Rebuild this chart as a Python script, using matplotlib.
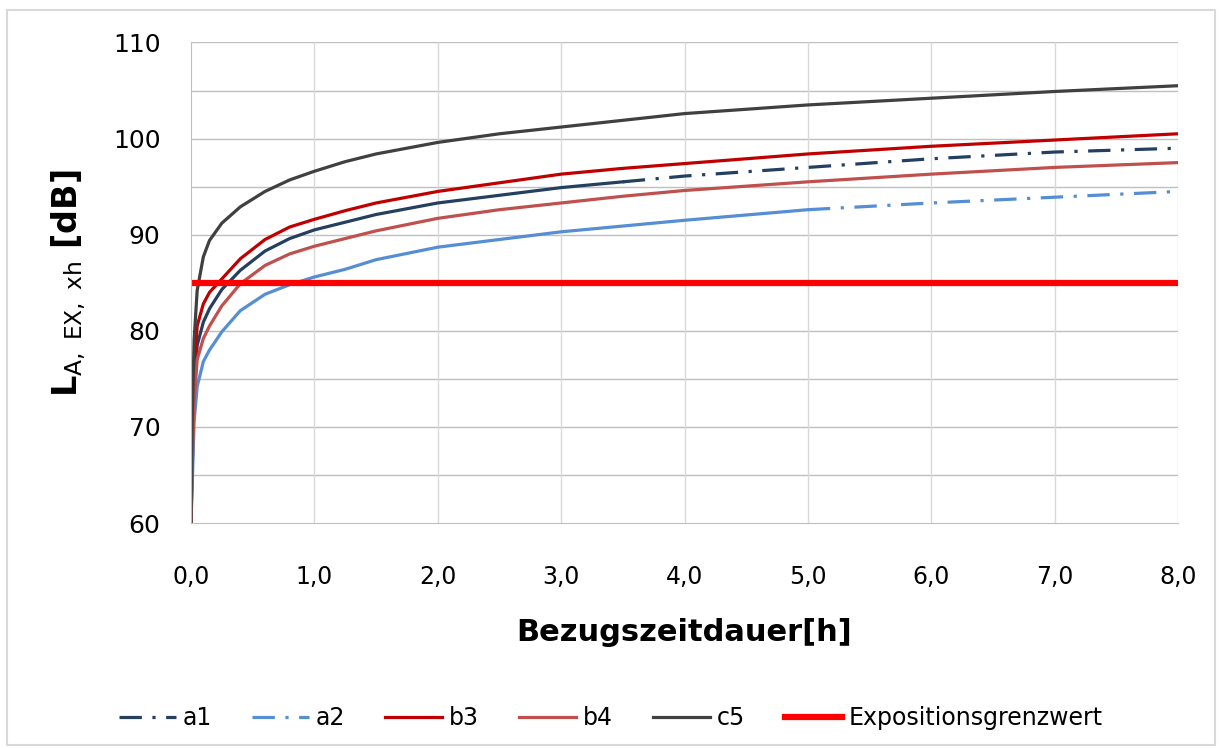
import matplotlib
matplotlib.use("Agg")
import matplotlib.pyplot as plt
import numpy as np

# Bezugszeitdauer in h (shared sample points)
hours = [0, 0.01, 0.025, 0.05, 0.1, 0.15, 0.25, 0.4, 0.6, 0.8, 1.0, 1.25,
         1.5, 2.0, 2.5, 3.0, 3.5, 4.0, 5.0, 6.0, 7.0, 8.0]

a1 = [60, 66, 73, 78.5, 80.9, 82.3, 84.3, 86.3, 88.3, 89.6, 90.5, 91.3,
      92.1, 93.3, 94.1, 94.9, 95.5, 96.1, 97.0, 97.9, 98.6, 99.0]
a2 = [60, 64, 70.5, 74.2, 76.8, 78.0, 79.9, 82.1, 83.8, 84.8, 85.6, 86.4,
      87.4, 88.7, 89.5, 90.3, 90.9, 91.5, 92.6, 93.3, 93.9, 94.5]
b3 = [60, 68, 76, 80.5, 82.8, 84.0, 85.4, 87.5, 89.5, 90.8, 91.6, 92.5,
      93.3, 94.5, 95.4, 96.3, 96.9, 97.4, 98.4, 99.2, 99.85, 100.5]
b4 = [60, 66, 72.5, 77, 79.2, 80.5, 82.6, 84.9, 86.8, 88.0, 88.8, 89.6,
      90.4, 91.7, 92.6, 93.3, 94.0, 94.6, 95.5, 96.3, 97.0, 97.5]
c5 = [60, 71, 79, 84.2, 87.7, 89.4, 91.2, 92.9, 94.5, 95.7, 96.6, 97.6,
      98.4, 99.6, 100.5, 101.2, 101.9, 102.6, 103.5, 104.2, 104.9, 105.5]
grenzwert = 85

x = np.array(hours)
dashdot = (7, 3.3, 1, 3.3)

fig = plt.figure(figsize=(12.22, 7.49), dpi=100)
ax = fig.add_axes([0.1563, 0.3017, 0.8077, 0.6416])

# dense part of the dash-dot series renders solid, sparse part dash-dot
solid_a1 = x <= 3.5
ax.plot(x[solid_a1], np.array(a1)[solid_a1], color="#243F60", lw=2.3)
h_a1, = ax.plot(x[x >= 3.5], np.array(a1)[x >= 3.5], color="#243F60", lw=2.3,
                dashes=dashdot, label="a1")
solid_a2 = x <= 5.0
ax.plot(x[solid_a2], np.array(a2)[solid_a2], color="#558ED5", lw=2.3)
h_a2, = ax.plot(x[x >= 5.0], np.array(a2)[x >= 5.0], color="#558ED5", lw=2.3,
                dashes=dashdot, label="a2")
h_b3, = ax.plot(x, b3, color="#C00000", lw=2.3, label="b3")
h_b4, = ax.plot(x, b4, color="#C0504D", lw=2.3, label="b4")
h_c5, = ax.plot(x, c5, color="#404040", lw=2.3, label="c5")
h_g, = ax.plot([0, 8], [grenzwert, grenzwert], color="#FF0000", lw=4.5,
               label="Expositionsgrenzwert")

ax.set_xlim(0, 8)
ax.set_ylim(60, 110)
ax.set_xticks(np.arange(0, 9, 1))
ax.set_xticklabels([f"{v:.1f}".replace(".", ",") for v in range(9)])
ax.set_yticks(np.arange(60, 111, 10))
ax.tick_params(axis="both", which="both", length=0)
ax.tick_params(axis="x", pad=30, labelsize=17)
ax.tick_params(axis="y", pad=22, labelsize=18)

for v in np.arange(65, 111, 5):
    ax.axhline(v, color="#BFBFBF", lw=1, zorder=0)
for v in range(1, 9):
    ax.axvline(v, color="#D9D9D9", lw=1, zorder=0)
for s in ["top", "right"]:
    ax.spines[s].set_visible(False)
ax.spines["left"].set_color("#BFBFBF")
ax.spines["bottom"].set_color("#BFBFBF")

ax.set_xlabel("Bezugszeitdauer[h]", fontsize=22, fontweight="bold", labelpad=21)
ax.set_ylabel(r"L$_{\mathrm{A,\ EX,\ xh}}$ [dB]", fontsize=24, fontweight="bold",
              labelpad=18)

fig.legend(handles=[h_a1, h_a2, h_b3, h_b4, h_c5, h_g], loc="center",
           bbox_to_anchor=(0.5, 0.041), ncol=6, frameon=False, fontsize=17,
           handlelength=2.4, columnspacing=1.7, handletextpad=0.3)

fig.patches.append(plt.Rectangle((0.006, 0.005), 0.988, 0.982,
                                 transform=fig.transFigure, fill=False,
                                 edgecolor="#D9D9D9", lw=1.5))

fig.savefig("out.png", dpi=100)
